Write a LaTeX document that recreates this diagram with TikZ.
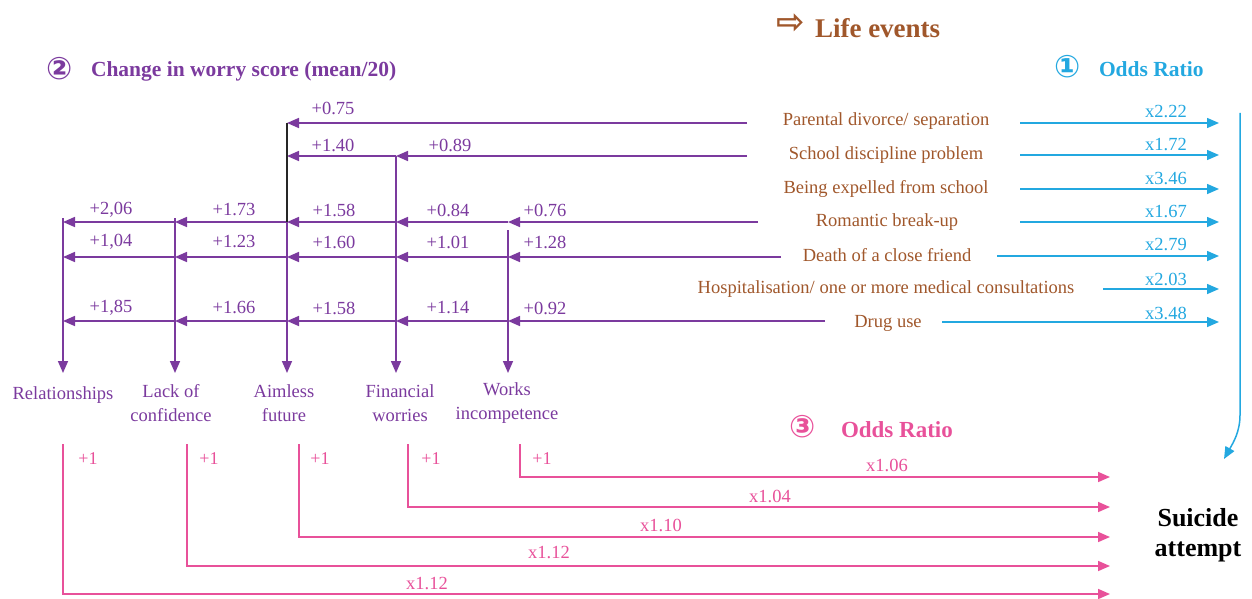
\documentclass[tikz,border=0pt]{standalone}
\usepackage{fontspec}
\setmainfont{Liberation Serif}
\newfontfamily\symfont{DejaVu Sans}
\usetikzlibrary{arrows.meta}
\definecolor{wpurple}{HTML}{7B3A9E}
\definecolor{lbrown}{HTML}{A0572B}
\definecolor{oblue}{HTML}{23A8E0}
\definecolor{opink}{HTML}{E8519A}
\begin{document}
\begin{tikzpicture}[x=1pt,y=-1pt,
  every node/.style={inner sep=0pt,outer sep=0pt},
  body/.style={font=\fontsize{18.5}{24}\selectfont},
  ev/.style={body,text=lbrown},
  wlab/.style={body,text=wpurple,align=center},
  pnum/.style={body,text=wpurple},
  bnum/.style={body,text=oblue},
  knum/.style={body,text=opink},
  circnum/.style={font=\symfont\bfseries\fontsize{31}{31}\selectfont},
  ttl/.style={anchor=west,font=\bfseries\fontsize{21.5}{24}\selectfont},
  tip/.style={-{Triangle[length=12pt,width=10pt]}},
  pl/.style={draw=wpurple,line width=1.6pt},
  pa/.style={pl,tip},
  bl/.style={draw=oblue,line width=1.5pt,tip},
  kl/.style={draw=opink,line width=1.6pt,tip},
]
\useasboundingbox (0,0) rectangle (1252,599);

% ---------- titles ----------
\node[text=lbrown,font=\symfont\bfseries\fontsize{34}{34}\selectfont] (learrow) at (791,24) {⇨};
\node[ttl,text=lbrown,font=\bfseries\fontsize{27}{30}\selectfont] (letitle) at (815,28) {Life events};
\node[circnum,text=wpurple] (c2) at (60,69) {②};
\node[ttl,text=wpurple] (wtitle) at (91,71) {Change in worry score (mean/20)};
\node[circnum,text=oblue] (c1) at (1068,67) {①};
\node[ttl,text=oblue] (btitle) at (1099,69) {Odds Ratio};
\node[circnum,text=opink] (c3) at (803,427) {③};
\node[ttl,text=opink,font=\bfseries\fontsize{23}{26}\selectfont] (ktitle) at (841,430) {Odds Ratio};

% ---------- life events ----------
\node[ev] (ev1) at (886,121) {Parental divorce/ separation};
\node[ev] (ev2) at (886,155) {School discipline problem};
\node[ev] (ev3) at (886,189) {Being expelled from school};
\node[ev] (ev4) at (887,222) {Romantic break-up};
\node[ev] (ev5) at (887,255) {Death of a close friend};
\node[ev] (ev6) at (886,289) {Hospitalisation/ one or more medical consultations};
\node[ev] (ev7) at (888,323) {Drug use};

% ---------- worry categories ----------
\node[wlab] (relat) at (63,395) {Relationships};
\node[wlab] (lack) at (171,403) {Lack of\\confidence};
\node[wlab] (aim) at (284,403) {Aimless\\future};
\node[wlab] (fin) at (400,403) {Financial\\worries};
\node[wlab] (works) at (507,403) {Works\\incompetence};

\node[font=\bfseries\fontsize{26}{30}\selectfont,align=center] (suic) at (1198,535) {Suicide\\attempt};

% ---------- coordinates ----------
\coordinate (s1) at (747,123);
\coordinate (s2) at (747,156);
\coordinate (s4) at (758,222);
\coordinate (s5) at (781,257);
\coordinate (s7) at (825,321);
\coordinate (A1) at (287,123);
\coordinate (A2) at (287,156);
\coordinate (F2) at (396,156);
\foreach \r/\y in {4/222,5/257,7/321}{
  \coordinate (R\r) at (63,\y);
  \coordinate (L\r) at (175,\y);
  \coordinate (A\r) at (287,\y);
  \coordinate (F\r) at (396,\y);
  \coordinate (W\r) at (508,\y);
}
\coordinate (Rt) at (63,218);
\coordinate (Lt) at (175,218);
\coordinate (Wt) at (508,230);
\coordinate (Rb) at (63,373);
\coordinate (Lb) at (175,373);
\coordinate (Ab) at (287,373);
\coordinate (Fb) at (396,373);
\coordinate (Wb) at (508,373);

% ---------- purple connectors ----------
\draw[pa] (s1) -- (A1);
\draw[pa] (s2) -- (F2);
\draw[pa] (F2) -- (A2);
\foreach \r/\s in {4/s4,5/s5,7/s7}{
  \draw[pa] (\s) -- (W\r);
  \draw[pa] (W\r) -- (F\r);
  \draw[pa] (F\r) -- (A\r);
  \draw[pa] (A\r) -- (L\r);
  \draw[pa] (L\r) -- (R\r);
}
\draw[draw=black!85,line width=1.4pt] (A1) -- (A4);
\draw[pa] (A4) -- (Ab);
\draw[pa] (Rt) -- (Rb);
\draw[pa] (Lt) -- (Lb);
\draw[pa] (F2) -- (Fb);
\draw[pa] (Wt) -- (Wb);

% purple labels
\node[pnum] (n01) at (333,108) {+0.75};
\node[pnum] (n02) at (333,145) {+1.40};
\node[pnum] (n03) at (450,145) {+0.89};
\node[pnum] (n41) at (111,210) {+2,06};
\node[pnum] (n42) at (234,210) {+1.73};
\node[pnum] (n43) at (334,210) {+1.58};
\node[pnum] (n44) at (448,210) {+0.84};
\node[pnum] (n45) at (545,210) {+0.76};
\node[pnum] (n51) at (111,242) {+1,04};
\node[pnum] (n52) at (234,242) {+1.23};
\node[pnum] (n53) at (334,242) {+1.60};
\node[pnum] (n54) at (448,242) {+1.01};
\node[pnum] (n55) at (545,242) {+1.28};
\node[pnum] (n71) at (111,308) {+1,85};
\node[pnum] (n72) at (234,308) {+1.66};
\node[pnum] (n73) at (334,308) {+1.58};
\node[pnum] (n74) at (448,308) {+1.14};
\node[pnum] (n75) at (545,308) {+0.92};

% ---------- blue connectors ----------
\coordinate (b1s) at (1020,123); \coordinate (b1e) at (1219,123);
\coordinate (b2s) at (1020,155); \coordinate (b2e) at (1219,155);
\coordinate (b3s) at (1020,189); \coordinate (b3e) at (1219,189);
\coordinate (b4s) at (1020,222); \coordinate (b4e) at (1219,222);
\coordinate (b5s) at (997,256);  \coordinate (b5e) at (1219,256);
\coordinate (b6s) at (1103,289); \coordinate (b6e) at (1219,289);
\coordinate (b7s) at (942,322);  \coordinate (b7e) at (1219,322);
\foreach \i in {1,...,7}{ \draw[bl] (b\i s) -- (b\i e); }
\node[bnum] (o1) at (1166,112) {x2.22};
\node[bnum] (o2) at (1166,145) {x1.72};
\node[bnum] (o3) at (1166,179) {x3.46};
\node[bnum] (o4) at (1166,212) {x1.67};
\node[bnum] (o5) at (1166,245) {x2.79};
\node[bnum] (o6) at (1166,279) {x2.03};
\node[bnum] (o7) at (1166,313) {x3.48};
\coordinate (bt) at (1240,113);
\coordinate (bm) at (1240,415);
\coordinate (bend) at (1224,459);
\draw[bl] (bt) -- (bm) .. controls (1240,432) and (1233,443) .. (bend);

% ---------- pink connectors ----------
\coordinate (k1t) at (520,444); \coordinate (k1e) at (1110,477);
\coordinate (k2t) at (408,444); \coordinate (k2e) at (1110,507);
\coordinate (k3t) at (299,444); \coordinate (k3e) at (1110,537);
\coordinate (k4t) at (187,444); \coordinate (k4e) at (1110,566);
\coordinate (k5t) at (63,444);  \coordinate (k5e) at (1110,594);
\foreach \i in {1,...,5}{ \draw[kl] (k\i t) |- (k\i e); }
\node[knum,font=\fontsize{18}{20}\selectfont] (p1) at (542,459) {+1};
\node[knum,font=\fontsize{18}{20}\selectfont] (p2) at (431,459) {+1};
\node[knum,font=\fontsize{18}{20}\selectfont] (p3) at (320,459) {+1};
\node[knum,font=\fontsize{18}{20}\selectfont] (p4) at (209,459) {+1};
\node[knum,font=\fontsize{18}{20}\selectfont] (p5) at (88,459) {+1};
\node[knum] (q1) at (887,465) {x1.06};
\node[knum] (q2) at (770,496) {x1.04};
\node[knum] (q3) at (661,525) {x1.10};
\node[knum] (q4) at (549,553) {x1.12};
\node[knum] (q5) at (427,583) {x1.12};
\end{tikzpicture}
\end{document}
